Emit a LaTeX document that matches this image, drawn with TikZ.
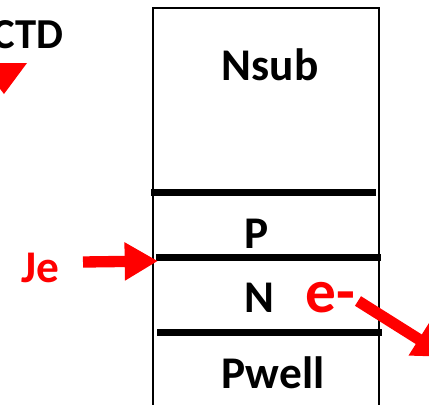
\documentclass[tikz,border=0pt]{standalone}
\usepackage{fontspec}
\setmainfont{Carlito}
\usetikzlibrary{arrows.meta}

\begin{document}
\begin{tikzpicture}[
  x=0.75pt, y=-0.75pt,
  label/.style={font=\bfseries\fontsize{34}{40}\selectfont, inner sep=0pt, anchor=base},
  redlabel/.style={label, text=red},
  layerline/.style={line width=5.25pt},
  bigarrow/.style={red, line width=8.5pt, -{Triangle[length=25pt, width=27pt]}}
]
\useasboundingbox (0,0) rectangle (429,404);
\clip (0,0) rectangle (429,404);

% Device stack
\draw[line width=1.5pt] (153,8) rectangle (379,412);
\draw[layerline] (151,192) -- (376,192);
\draw[layerline] (156,257) -- (381,257);
\draw[layerline] (157,332) -- (382,332);

% Layer names
\node[label] (nsub) at (270,80) {Nsub};
\node[label] (p) at (257,248) {P};
\node[label] (n) at (259,312) {N};
\node[label] (pwell) at (273,388) {Pwell};

% Top-left label and arrow head
\node[label, anchor=base east, font=\bfseries\fontsize{32}{38}\selectfont] (ctd) at (64,48) {CTD};
\fill[red] (-20,63) -- (27,63) -- (4,94) -- cycle;

% Emitter current
\node[redlabel] (je) at (40,282) {Je};
\coordinate (jetail) at (83,262);
\coordinate (jetip) at (158,261);
\draw[bigarrow] (jetail) -- (jetip);

% Electron out
\node[redlabel, font=\bfseries\fontsize{46}{50}\selectfont] (elec) at (330,312) {e-};
\coordinate (etip) at (447,357);
\draw[bigarrow] (358,301) -- (etip);
\end{tikzpicture}
\end{document}
